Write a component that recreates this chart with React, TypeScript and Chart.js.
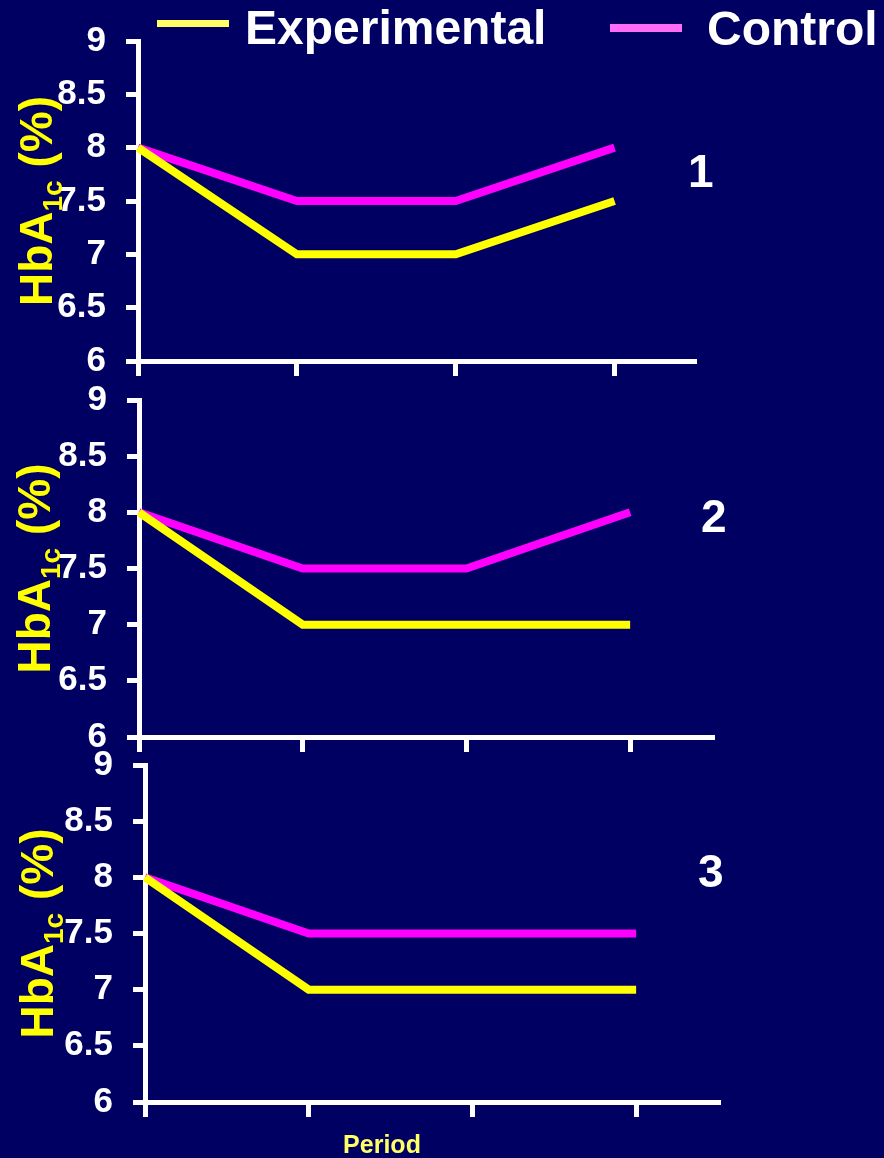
import React, { useEffect, useRef } from "react";
import { Chart, registerables } from "chart.js";

Chart.register(...registerables);

// ---------- data ----------
const periods = ["1", "2", "3", "4"];
const seriesNames = ["Experimental", "Control"];
const panelLabels = ["1", "2", "3"];
const experimental1 = [8, 7, 7, 7.5];
const control1 = [8, 7.5, 7.5, 8];
const experimental2 = [8, 7, 7, 7];
const control2 = [8, 7.5, 7.5, 8];
const experimental3 = [8, 7, 7, 7];
const control3 = [8, 7.5, 7.5, 7.5];
const yTicks = [6, 6.5, 7, 7.5, 8, 8.5, 9];
const yTitleParts = ["HbA", "1c", " (%)"];
const xAxisTitle = "Period";

// ---------- styles ----------
const W = 884;
const H = 1158;
const BG = "#000062";
const YELLOW = "#ffff00";
const MAGENTA = "#ff00ff";
const LEGEND_YELLOW = "#ffff66";
const LEGEND_MAGENTA = "#ff6cf6";
const PERIOD_YELLOW = "#ffff66";
const FONT = "Arial, 'Liberation Sans', sans-serif";

const panelLayouts = [
  { left: 138, top: 39, bottom: 361, right: 694, numX: 688, numY: 187, titleX: 52 },
  { left: 139, top: 400, bottom: 737, right: 712, numX: 701, numY: 532, titleX: 50 },
  { left: 145, top: 765, bottom: 1102, right: 718, numX: 698, numY: 887, titleX: 53 },
];

const panelSeries = [
  [experimental1, control1],
  [experimental2, control2],
  [experimental3, control3],
];

function makeConfig(idx: number): any {
  const p = panelLayouts[idx];
  const [exp, ctrl] = panelSeries[idx];
  const xAxisH = 20;

  const overlay = {
    id: "overlay" + idx,
    afterDraw(chart: any) {
      const ctx = chart.ctx;
      const { top, bottom } = chart.chartArea;
      // y-axis title with subscript
      ctx.save();
      ctx.translate(p.titleX, (top + bottom) / 2);
      ctx.rotate(-Math.PI / 2);
      ctx.fillStyle = YELLOW;
      ctx.textBaseline = "alphabetic";
      ctx.textAlign = "left";
      const mainFont = `bold 46px ${FONT}`;
      const subFont = `bold 28px ${FONT}`;
      ctx.font = mainFont;
      const w1 = ctx.measureText(yTitleParts[0]).width;
      const w3 = ctx.measureText(yTitleParts[2]).width;
      ctx.font = subFont;
      const w2 = ctx.measureText(yTitleParts[1]).width;
      let x = -(w1 + w2 + w3) / 2;
      ctx.font = mainFont;
      ctx.fillText(yTitleParts[0], x, 0);
      x += w1;
      ctx.font = subFont;
      ctx.fillText(yTitleParts[1], x, 10);
      x += w2;
      ctx.font = mainFont;
      ctx.fillText(yTitleParts[2], x, 0);
      ctx.restore();

      // panel number
      ctx.save();
      ctx.fillStyle = "#ffffff";
      ctx.font = `bold 46px ${FONT}`;
      ctx.textAlign = "left";
      ctx.textBaseline = "alphabetic";
      ctx.fillText(panelLabels[idx], p.numX, p.numY);
      ctx.restore();

      if (idx === 0) {
        // legend
        ctx.save();
        ctx.fillStyle = LEGEND_YELLOW;
        ctx.fillRect(157, 20, 72, 7);
        ctx.fillStyle = LEGEND_MAGENTA;
        ctx.fillRect(610, 24, 72, 8);
        ctx.fillStyle = "#ffffff";
        ctx.font = `bold 48px ${FONT}`;
        ctx.textAlign = "left";
        ctx.textBaseline = "alphabetic";
        ctx.fillText(chart.data.datasets[0].label, 245, 44);
        ctx.fillText(chart.data.datasets[1].label, 707, 45);
        ctx.restore();
      }
      if (idx === 2) {
        ctx.save();
        ctx.fillStyle = PERIOD_YELLOW;
        ctx.font = `bold 25px ${FONT}`;
        ctx.textAlign = "center";
        ctx.textBaseline = "alphabetic";
        ctx.fillText(xAxisTitle, 382, 1153);
        ctx.restore();
      }
    },
  };

  const lineDs = (label: string, values: number[], color: string) => ({
    label,
    data: values.map((v, i) => ({ x: i, y: v })),
    borderColor: color,
    backgroundColor: color,
    borderWidth: 8,
    pointRadius: 0,
    pointHoverRadius: 0,
    fill: false,
    tension: 0,
    borderCapStyle: "butt",
    borderJoinStyle: "miter",
    clip: 6,
  });

  return {
    type: "line",
    data: {
      datasets: [
        lineDs(seriesNames[0], exp, YELLOW),
        lineDs(seriesNames[1], ctrl, MAGENTA),
      ],
    },
    options: {
      responsive: false,
      maintainAspectRatio: false,
      animation: false,
      events: [],
      layout: {
        padding: {
          left: 0,
          top: p.top,
          right: W - p.right,
          bottom: H - p.bottom - xAxisH,
        },
      },
      scales: {
        x: {
          type: "linear",
          min: 0,
          max: periods.length - 0.5,
          afterBuildTicks: (s: any) => {
            s.ticks = periods.map((_, i) => ({ value: i }));
          },
          afterFit: (s: any) => {
            s.height = xAxisH;
          },
          ticks: { display: false },
          grid: {
            display: true,
            drawOnChartArea: false,
            drawTicks: true,
            tickLength: 15,
            color: "#ffffff",
            lineWidth: 5,
          },
          border: { display: true, color: "#ffffff", width: 5 },
        },
        y: {
          type: "linear",
          min: yTicks[0],
          max: yTicks[yTicks.length - 1],
          afterBuildTicks: (s: any) => {
            s.ticks = yTicks.map((v) => ({ value: v }));
          },
          afterFit: (s: any) => {
            s.width = p.left;
          },
          ticks: {
            color: "#ffffff",
            font: { family: FONT, size: 35, weight: "bold" },
            padding: 20,
            callback: (v: any) => String(v),
          },
          grid: {
            display: true,
            drawOnChartArea: false,
            drawTicks: true,
            tickLength: 12,
            color: "#ffffff",
            lineWidth: 5,
          },
          border: { display: true, color: "#ffffff", width: 5 },
        },
      },
      plugins: {
        legend: { display: false },
        tooltip: { enabled: false },
        title: { display: false },
      },
    },
    plugins: [overlay],
  };
}

function Panel({ idx }: { idx: number }) {
  const ref = useRef<HTMLCanvasElement | null>(null);
  useEffect(() => {
    if (!ref.current) return;
    const chart = new Chart(ref.current, makeConfig(idx));
    return () => chart.destroy();
  }, [idx]);
  return (
    <canvas
      ref={ref}
      width={W}
      height={H}
      style={{ position: "absolute", left: 0, top: 0, width: W, height: H }}
    />
  );
}

export default function App() {
  useEffect(() => {
    document.body.style.margin = "0";
    document.body.style.background = BG;
  }, []);
  return (
    <div
      style={{
        position: "relative",
        width: W,
        height: H,
        background: BG,
        overflow: "hidden",
      }}
    >
      {panelLayouts.map((_, i) => (
        <Panel key={i} idx={i} />
      ))}
    </div>
  );
}
